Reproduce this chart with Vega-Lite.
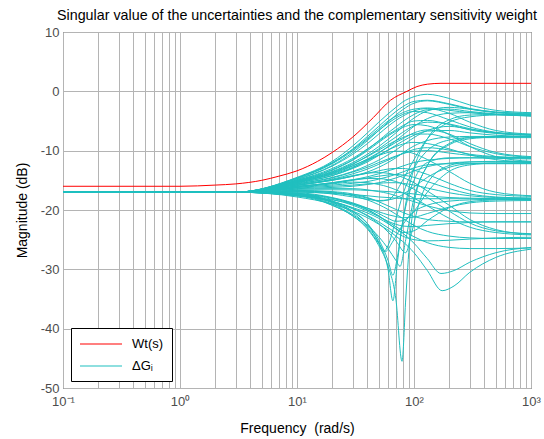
{
  "$schema": "https://vega.github.io/schema/vega-lite/v6.json",
  "width": 468,
  "height": 356,
  "autosize": {"type": "none"},
  "padding": {"left": 63, "top": 32, "right": 13, "bottom": 51},
  "background": "white",
  "title": {"text": "Singular value of the uncertainties and the complementary sensitivity weight", "fontSize": 14.3, "fontWeight": "normal", "font": "Liberation Sans", "color": "#000", "offset": 3},
  "config": {
    "font": "Liberation Sans",
    "view": {"stroke": "#333", "strokeWidth": 1},
    "axis": {"gridColor": "#b4b4b4", "gridOpacity": 1, "gridWidth": 1, "domain": false, "tickSize": 0, "labelFontSize": 13, "labelColor": "#4d4d4d", "titleFontSize": 14, "titleFontWeight": "normal", "titleColor": "#000", "labelFont": "Liberation Sans", "titleFont": "Liberation Sans"},
    "legend": {"orient": "none", "legendX": 8, "legendY": 296, "strokeColor": "#000", "fillColor": "white", "padding": 8, "symbolType": "M-1,0H5", "symbolSize": 196, "symbolStrokeWidth": 1, "labelFontSize": 13, "labelColor": "#000", "labelOffset": 37, "rowPadding": 7, "title": null}
  },
  "datasets": {
    "wt": [
      {"f":0.1,"m":-16},{"f":1,"m":-16},{"f":2,"m":-15.8},{"f":3,"m":-15.6},{"f":5,"m":-15},{"f":7,"m":-14.3},{"f":10,"m":-13.4},{"f":15,"m":-11.8},{"f":20,"m":-10.3},{"f":30,"m":-7.7},{"f":45,"m":-4.4},{"f":63,"m":-1.5},{"f":87,"m":0},{"f":106,"m":0.8},{"f":130,"m":1.2},{"f":170,"m":1.35},{"f":300,"m":1.35},{"f":1000,"m":1.35}
    ],
    "dg": [
      {"s":"A1","f":0.1,"m":-17},{"s":"A1","f":3,"m":-17},{"s":"A1","f":10,"m":-14.5},{"s":"A1","f":20,"m":-11.8},{"s":"A1","f":30,"m":-9.2},{"s":"A1","f":40,"m":-7},{"s":"A1","f":50,"m":-5.2},{"s":"A1","f":60,"m":-3.8},{"s":"A1","f":70,"m":-2.7},{"s":"A1","f":80,"m":-1.8},{"s":"A1","f":100,"m":-0.9},{"s":"A1","f":130,"m":-0.5},{"s":"A1","f":200,"m":-1.2},{"s":"A1","f":300,"m":-2.3},{"s":"A1","f":500,"m":-3.2},{"s":"A1","f":1000,"m":-3.6},
      {"s":"A2","f":0.1,"m":-17},{"s":"A2","f":3,"m":-17},{"s":"A2","f":10,"m":-14.8},{"s":"A2","f":20,"m":-12.5},{"s":"A2","f":30,"m":-10.3},{"s":"A2","f":40,"m":-8.3},{"s":"A2","f":50,"m":-6.6},{"s":"A2","f":60,"m":-5.2},{"s":"A2","f":70,"m":-4},{"s":"A2","f":80,"m":-3.1},{"s":"A2","f":100,"m":-2},{"s":"A2","f":130,"m":-1.6},{"s":"A2","f":200,"m":-2.2},{"s":"A2","f":300,"m":-3},{"s":"A2","f":500,"m":-3.6},{"s":"A2","f":1000,"m":-3.9},
      {"s":"A3","f":0.1,"m":-17},{"s":"A3","f":3,"m":-17},{"s":"A3","f":10,"m":-15},{"s":"A3","f":20,"m":-13.2},{"s":"A3","f":30,"m":-11.5},{"s":"A3","f":40,"m":-9.8},{"s":"A3","f":50,"m":-8.3},{"s":"A3","f":60,"m":-7},{"s":"A3","f":70,"m":-6},{"s":"A3","f":80,"m":-5.1},{"s":"A3","f":100,"m":-3.9},{"s":"A3","f":130,"m":-3.1},{"s":"A3","f":200,"m":-3},{"s":"A3","f":300,"m":-3.4},{"s":"A3","f":500,"m":-3.8},{"s":"A3","f":1000,"m":-4.1},
      {"s":"A4","f":0.1,"m":-17},{"s":"A4","f":3,"m":-17},{"s":"A4","f":10,"m":-15.3},{"s":"A4","f":20,"m":-14},{"s":"A4","f":30,"m":-12.8},{"s":"A4","f":40,"m":-11.6},{"s":"A4","f":50,"m":-10.4},{"s":"A4","f":60,"m":-9.3},{"s":"A4","f":70,"m":-8.3},{"s":"A4","f":80,"m":-7.4},{"s":"A4","f":100,"m":-5.9},{"s":"A4","f":130,"m":-4.6},{"s":"A4","f":200,"m":-3.7},{"s":"A4","f":300,"m":-3.6},{"s":"A4","f":500,"m":-3.9},{"s":"A4","f":1000,"m":-4.2},
      {"s":"A5","f":0.1,"m":-17},{"s":"A5","f":3,"m":-17},{"s":"A5","f":10,"m":-17.3},{"s":"A5","f":20,"m":-18.8},{"s":"A5","f":30,"m":-20.5},{"s":"A5","f":40,"m":-22.8},{"s":"A5","f":50,"m":-25.5},{"s":"A5","f":60,"m":-30},{"s":"A5","f":66,"m":-35.3},{"s":"A5","f":72,"m":-29},{"s":"A5","f":80,"m":-22},{"s":"A5","f":90,"m":-16.5},{"s":"A5","f":100,"m":-13},{"s":"A5","f":130,"m":-8},{"s":"A5","f":200,"m":-4.8},{"s":"A5","f":300,"m":-4},{"s":"A5","f":500,"m":-3.9},{"s":"A5","f":1000,"m":-4},
      {"s":"A6","f":0.1,"m":-17},{"s":"A6","f":3,"m":-17},{"s":"A6","f":10,"m":-14.6},{"s":"A6","f":20,"m":-12},{"s":"A6","f":30,"m":-9.8},{"s":"A6","f":40,"m":-7.9},{"s":"A6","f":50,"m":-6.3},{"s":"A6","f":60,"m":-5},{"s":"A6","f":70,"m":-4.2},{"s":"A6","f":80,"m":-3.6},{"s":"A6","f":100,"m":-3},{"s":"A6","f":130,"m":-2.8},{"s":"A6","f":200,"m":-3.2},{"s":"A6","f":300,"m":-3.6},{"s":"A6","f":500,"m":-3.9},{"s":"A6","f":1000,"m":-4},
      {"s":"A7","f":0.1,"m":-17},{"s":"A7","f":3,"m":-17},{"s":"A7","f":10,"m":-15.1},{"s":"A7","f":20,"m":-13.5},{"s":"A7","f":30,"m":-12},{"s":"A7","f":40,"m":-10.6},{"s":"A7","f":50,"m":-9.3},{"s":"A7","f":60,"m":-8.1},{"s":"A7","f":70,"m":-7},{"s":"A7","f":80,"m":-6},{"s":"A7","f":100,"m":-4.5},{"s":"A7","f":130,"m":-3.3},{"s":"A7","f":200,"m":-2.7},{"s":"A7","f":300,"m":-3},{"s":"A7","f":500,"m":-3.5},{"s":"A7","f":1000,"m":-3.7},
      {"s":"A8","f":0.1,"m":-17},{"s":"A8","f":3,"m":-17},{"s":"A8","f":10,"m":-14.6},{"s":"A8","f":20,"m":-12.1},{"s":"A8","f":30,"m":-9.7},{"s":"A8","f":40,"m":-7.6},{"s":"A8","f":50,"m":-5.9},{"s":"A8","f":60,"m":-4.5},{"s":"A8","f":70,"m":-3.4},{"s":"A8","f":80,"m":-2.6},{"s":"A8","f":100,"m":-1.7},{"s":"A8","f":130,"m":-1.5},{"s":"A8","f":200,"m":-2.1},{"s":"A8","f":300,"m":-2.9},{"s":"A8","f":500,"m":-3.5},{"s":"A8","f":1000,"m":-3.8},
      {"s":"A9","f":0.1,"m":-17},{"s":"A9","f":3,"m":-17},{"s":"A9","f":10,"m":-16.8},{"s":"A9","f":20,"m":-17},{"s":"A9","f":30,"m":-17.5},{"s":"A9","f":40,"m":-18},{"s":"A9","f":50,"m":-18.5},{"s":"A9","f":60,"m":-18.3},{"s":"A9","f":70,"m":-17},{"s":"A9","f":80,"m":-15},{"s":"A9","f":100,"m":-11.5},{"s":"A9","f":130,"m":-8},{"s":"A9","f":200,"m":-5.2},{"s":"A9","f":300,"m":-4.3},{"s":"A9","f":500,"m":-4},{"s":"A9","f":1000,"m":-4.1},
      {"s":"B1","f":0.1,"m":-17},{"s":"B1","f":3,"m":-17},{"s":"B1","f":10,"m":-14.7},{"s":"B1","f":20,"m":-12.2},{"s":"B1","f":30,"m":-10},{"s":"B1","f":40,"m":-8.1},{"s":"B1","f":50,"m":-6.6},{"s":"B1","f":60,"m":-5.4},{"s":"B1","f":70,"m":-4.5},{"s":"B1","f":80,"m":-3.9},{"s":"B1","f":100,"m":-3.4},{"s":"B1","f":130,"m":-3.6},{"s":"B1","f":200,"m":-4.8},{"s":"B1","f":300,"m":-6},{"s":"B1","f":500,"m":-6.9},{"s":"B1","f":1000,"m":-7.3},
      {"s":"B2","f":0.1,"m":-17},{"s":"B2","f":3,"m":-17},{"s":"B2","f":10,"m":-15},{"s":"B2","f":20,"m":-13},{"s":"B2","f":30,"m":-11.3},{"s":"B2","f":40,"m":-9.7},{"s":"B2","f":50,"m":-8.4},{"s":"B2","f":60,"m":-7.3},{"s":"B2","f":70,"m":-6.5},{"s":"B2","f":80,"m":-5.8},{"s":"B2","f":100,"m":-5},{"s":"B2","f":130,"m":-4.9},{"s":"B2","f":200,"m":-5.6},{"s":"B2","f":300,"m":-6.5},{"s":"B2","f":500,"m":-7.1},{"s":"B2","f":1000,"m":-7.4},
      {"s":"B3","f":0.1,"m":-17},{"s":"B3","f":3,"m":-17},{"s":"B3","f":10,"m":-15.4},{"s":"B3","f":20,"m":-14.2},{"s":"B3","f":30,"m":-13},{"s":"B3","f":40,"m":-11.9},{"s":"B3","f":50,"m":-10.8},{"s":"B3","f":60,"m":-9.9},{"s":"B3","f":70,"m":-9.1},{"s":"B3","f":80,"m":-8.4},{"s":"B3","f":100,"m":-7.4},{"s":"B3","f":130,"m":-6.7},{"s":"B3","f":200,"m":-6.6},{"s":"B3","f":300,"m":-7},{"s":"B3","f":500,"m":-7.4},{"s":"B3","f":1000,"m":-7.6},
      {"s":"B4","f":0.1,"m":-17},{"s":"B4","f":3,"m":-17},{"s":"B4","f":10,"m":-15.8},{"s":"B4","f":20,"m":-15},{"s":"B4","f":30,"m":-14.3},{"s":"B4","f":40,"m":-13.6},{"s":"B4","f":50,"m":-12.8},{"s":"B4","f":60,"m":-12},{"s":"B4","f":70,"m":-11.2},{"s":"B4","f":80,"m":-10.4},{"s":"B4","f":100,"m":-9.2},{"s":"B4","f":130,"m":-8.3},{"s":"B4","f":200,"m":-7.7},{"s":"B4","f":300,"m":-7.6},{"s":"B4","f":500,"m":-7.6},{"s":"B4","f":1000,"m":-7.7},
      {"s":"B5","f":0.1,"m":-17},{"s":"B5","f":3,"m":-17},{"s":"B5","f":10,"m":-17.4},{"s":"B5","f":20,"m":-19.2},{"s":"B5","f":30,"m":-21},{"s":"B5","f":40,"m":-23.2},{"s":"B5","f":50,"m":-26},{"s":"B5","f":60,"m":-29.5},{"s":"B5","f":70,"m":-35},{"s":"B5","f":79,"m":-45.5},{"s":"B5","f":85,"m":-35},{"s":"B5","f":92,"m":-25},{"s":"B5","f":100,"m":-19},{"s":"B5","f":130,"m":-12.5},{"s":"B5","f":200,"m":-8.8},{"s":"B5","f":300,"m":-7.8},{"s":"B5","f":500,"m":-7.6},{"s":"B5","f":1000,"m":-7.6},
      {"s":"B6","f":0.1,"m":-17},{"s":"B6","f":3,"m":-17},{"s":"B6","f":10,"m":-14.9},{"s":"B6","f":20,"m":-12.6},{"s":"B6","f":30,"m":-10.6},{"s":"B6","f":40,"m":-8.8},{"s":"B6","f":50,"m":-7.2},{"s":"B6","f":60,"m":-5.9},{"s":"B6","f":70,"m":-4.9},{"s":"B6","f":80,"m":-4.2},{"s":"B6","f":100,"m":-3.3},{"s":"B6","f":130,"m":-2.9},{"s":"B6","f":200,"m":-3.7},{"s":"B6","f":300,"m":-5.2},{"s":"B6","f":500,"m":-6.6},{"s":"B6","f":1000,"m":-7.2},
      {"s":"B7","f":0.1,"m":-17},{"s":"B7","f":3,"m":-17},{"s":"B7","f":10,"m":-17.2},{"s":"B7","f":20,"m":-18.6},{"s":"B7","f":30,"m":-20.2},{"s":"B7","f":40,"m":-22.3},{"s":"B7","f":50,"m":-25.5},{"s":"B7","f":55,"m":-27},{"s":"B7","f":60,"m":-26},{"s":"B7","f":70,"m":-21.5},{"s":"B7","f":80,"m":-17.5},{"s":"B7","f":100,"m":-13},{"s":"B7","f":130,"m":-10},{"s":"B7","f":200,"m":-8.2},{"s":"B7","f":300,"m":-7.8},{"s":"B7","f":500,"m":-7.8},{"s":"B7","f":1000,"m":-7.8},
      {"s":"B8","f":0.1,"m":-17},{"s":"B8","f":3,"m":-17},{"s":"B8","f":10,"m":-15.6},{"s":"B8","f":20,"m":-14.5},{"s":"B8","f":30,"m":-13.5},{"s":"B8","f":40,"m":-12.5},{"s":"B8","f":50,"m":-11.6},{"s":"B8","f":60,"m":-10.7},{"s":"B8","f":70,"m":-9.9},{"s":"B8","f":80,"m":-9.1},{"s":"B8","f":100,"m":-7.8},{"s":"B8","f":130,"m":-6.6},{"s":"B8","f":200,"m":-5.9},{"s":"B8","f":300,"m":-6.4},{"s":"B8","f":500,"m":-7},{"s":"B8","f":1000,"m":-7.3},
      {"s":"B9","f":0.1,"m":-17},{"s":"B9","f":3,"m":-17},{"s":"B9","f":10,"m":-15.2},{"s":"B9","f":20,"m":-13.7},{"s":"B9","f":30,"m":-12.3},{"s":"B9","f":40,"m":-10.9},{"s":"B9","f":50,"m":-9.7},{"s":"B9","f":60,"m":-8.6},{"s":"B9","f":70,"m":-7.7},{"s":"B9","f":80,"m":-6.9},{"s":"B9","f":100,"m":-5.8},{"s":"B9","f":130,"m":-5.2},{"s":"B9","f":200,"m":-5.5},{"s":"B9","f":300,"m":-6.3},{"s":"B9","f":500,"m":-7},{"s":"B9","f":1000,"m":-7.4},
      {"s":"B10","f":0.1,"m":-17},{"s":"B10","f":3,"m":-17},{"s":"B10","f":10,"m":-17.4},{"s":"B10","f":20,"m":-19},{"s":"B10","f":30,"m":-20.8},{"s":"B10","f":40,"m":-22.6},{"s":"B10","f":50,"m":-24.5},{"s":"B10","f":60,"m":-26.5},{"s":"B10","f":70,"m":-28.5},{"s":"B10","f":76,"m":-29.5},{"s":"B10","f":85,"m":-25},{"s":"B10","f":100,"m":-18},{"s":"B10","f":130,"m":-12.5},{"s":"B10","f":200,"m":-9},{"s":"B10","f":300,"m":-8},{"s":"B10","f":500,"m":-7.7},{"s":"B10","f":1000,"m":-7.6},
      {"s":"C1","f":0.1,"m":-17},{"s":"C1","f":3,"m":-17},{"s":"C1","f":10,"m":-15.2},{"s":"C1","f":20,"m":-13.6},{"s":"C1","f":30,"m":-12.2},{"s":"C1","f":40,"m":-11},{"s":"C1","f":50,"m":-9.9},{"s":"C1","f":60,"m":-9},{"s":"C1","f":70,"m":-8.3},{"s":"C1","f":80,"m":-7.8},{"s":"C1","f":100,"m":-7.2},{"s":"C1","f":130,"m":-7.2},{"s":"C1","f":200,"m":-8},{"s":"C1","f":300,"m":-9.3},{"s":"C1","f":500,"m":-10.5},{"s":"C1","f":1000,"m":-11.1},
      {"s":"C2","f":0.1,"m":-17},{"s":"C2","f":3,"m":-17},{"s":"C2","f":10,"m":-15.6},{"s":"C2","f":20,"m":-14.6},{"s":"C2","f":30,"m":-13.6},{"s":"C2","f":40,"m":-12.8},{"s":"C2","f":50,"m":-12},{"s":"C2","f":60,"m":-11.4},{"s":"C2","f":70,"m":-10.9},{"s":"C2","f":80,"m":-10.5},{"s":"C2","f":100,"m":-10.1},{"s":"C2","f":130,"m":-10},{"s":"C2","f":200,"m":-10.4},{"s":"C2","f":300,"m":-10.8},{"s":"C2","f":500,"m":-11.1},{"s":"C2","f":1000,"m":-11.2},
      {"s":"C3","f":0.1,"m":-17},{"s":"C3","f":3,"m":-17},{"s":"C3","f":10,"m":-16},{"s":"C3","f":20,"m":-15.4},{"s":"C3","f":30,"m":-14.9},{"s":"C3","f":40,"m":-14.4},{"s":"C3","f":50,"m":-13.9},{"s":"C3","f":60,"m":-13.4},{"s":"C3","f":70,"m":-13},{"s":"C3","f":80,"m":-12.6},{"s":"C3","f":100,"m":-12},{"s":"C3","f":130,"m":-11.6},{"s":"C3","f":200,"m":-11.3},{"s":"C3","f":300,"m":-11.2},{"s":"C3","f":500,"m":-11.2},{"s":"C3","f":1000,"m":-11.3},
      {"s":"C4","f":0.1,"m":-17},{"s":"C4","f":3,"m":-17},{"s":"C4","f":10,"m":-16.9},{"s":"C4","f":20,"m":-17.3},{"s":"C4","f":30,"m":-17.8},{"s":"C4","f":40,"m":-18.2},{"s":"C4","f":50,"m":-18.4},{"s":"C4","f":60,"m":-18.3},{"s":"C4","f":70,"m":-18},{"s":"C4","f":80,"m":-17.4},{"s":"C4","f":100,"m":-16.1},{"s":"C4","f":130,"m":-14.5},{"s":"C4","f":200,"m":-12.8},{"s":"C4","f":300,"m":-12.2},{"s":"C4","f":500,"m":-12.1},{"s":"C4","f":1000,"m":-12.1},
      {"s":"C5","f":0.1,"m":-17},{"s":"C5","f":3,"m":-17},{"s":"C5","f":10,"m":-15.1},{"s":"C5","f":20,"m":-13.3},{"s":"C5","f":30,"m":-11.6},{"s":"C5","f":40,"m":-10},{"s":"C5","f":50,"m":-8.6},{"s":"C5","f":60,"m":-7.5},{"s":"C5","f":70,"m":-6.7},{"s":"C5","f":80,"m":-6.1},{"s":"C5","f":100,"m":-5.6},{"s":"C5","f":130,"m":-5.8},{"s":"C5","f":200,"m":-7.3},{"s":"C5","f":300,"m":-9.3},{"s":"C5","f":500,"m":-11},{"s":"C5","f":1000,"m":-11.8},
      {"s":"C6","f":0.1,"m":-17},{"s":"C6","f":3,"m":-17},{"s":"C6","f":10,"m":-17.3},{"s":"C6","f":20,"m":-18.5},{"s":"C6","f":30,"m":-19.8},{"s":"C6","f":40,"m":-21},{"s":"C6","f":50,"m":-22.3},{"s":"C6","f":60,"m":-23.7},{"s":"C6","f":70,"m":-25.2},{"s":"C6","f":85,"m":-27.2},{"s":"C6","f":95,"m":-24},{"s":"C6","f":110,"m":-19},{"s":"C6","f":130,"m":-15.5},{"s":"C6","f":200,"m":-12.5},{"s":"C6","f":300,"m":-11.9},{"s":"C6","f":500,"m":-11.8},{"s":"C6","f":1000,"m":-11.9},
      {"s":"C7","f":0.1,"m":-17},{"s":"C7","f":3,"m":-17},{"s":"C7","f":10,"m":-16.4},{"s":"C7","f":20,"m":-16.2},{"s":"C7","f":30,"m":-16},{"s":"C7","f":40,"m":-15.7},{"s":"C7","f":50,"m":-15.4},{"s":"C7","f":60,"m":-15},{"s":"C7","f":70,"m":-14.6},{"s":"C7","f":80,"m":-14.2},{"s":"C7","f":100,"m":-13.4},{"s":"C7","f":130,"m":-12.7},{"s":"C7","f":200,"m":-12.1},{"s":"C7","f":300,"m":-11.9},{"s":"C7","f":500,"m":-11.9},{"s":"C7","f":1000,"m":-12},
      {"s":"C8","f":0.1,"m":-17},{"s":"C8","f":3,"m":-17},{"s":"C8","f":10,"m":-17.3},{"s":"C8","f":20,"m":-18.7},{"s":"C8","f":30,"m":-20.3},{"s":"C8","f":40,"m":-22.3},{"s":"C8","f":50,"m":-25},{"s":"C8","f":60,"m":-28.5},{"s":"C8","f":66,"m":-31},{"s":"C8","f":72,"m":-28},{"s":"C8","f":80,"m":-22},{"s":"C8","f":90,"m":-17.5},{"s":"C8","f":100,"m":-15},{"s":"C8","f":130,"m":-12},{"s":"C8","f":200,"m":-11.2},{"s":"C8","f":300,"m":-11.2},{"s":"C8","f":500,"m":-11.3},{"s":"C8","f":1000,"m":-11.4},
      {"s":"C9","f":0.1,"m":-17},{"s":"C9","f":3,"m":-17},{"s":"C9","f":10,"m":-15.5},{"s":"C9","f":20,"m":-14.2},{"s":"C9","f":30,"m":-12.9},{"s":"C9","f":40,"m":-11.7},{"s":"C9","f":50,"m":-10.7},{"s":"C9","f":60,"m":-9.9},{"s":"C9","f":70,"m":-9.3},{"s":"C9","f":80,"m":-8.9},{"s":"C9","f":100,"m":-8.6},{"s":"C9","f":130,"m":-8.8},{"s":"C9","f":200,"m":-9.7},{"s":"C9","f":300,"m":-10.7},{"s":"C9","f":500,"m":-11.5},{"s":"C9","f":1000,"m":-11.9},
      {"s":"C10","f":0.1,"m":-17},{"s":"C10","f":3,"m":-17},{"s":"C10","f":10,"m":-15.3},{"s":"C10","f":20,"m":-13.9},{"s":"C10","f":30,"m":-12.6},{"s":"C10","f":40,"m":-11.4},{"s":"C10","f":50,"m":-10.3},{"s":"C10","f":60,"m":-9.4},{"s":"C10","f":70,"m":-8.6},{"s":"C10","f":80,"m":-8},{"s":"C10","f":100,"m":-7},{"s":"C10","f":130,"m":-6.5},{"s":"C10","f":200,"m":-7.2},{"s":"C10","f":300,"m":-8.8},{"s":"C10","f":500,"m":-10.3},{"s":"C10","f":1000,"m":-11},
      {"s":"C11","f":0.1,"m":-17},{"s":"C11","f":3,"m":-17},{"s":"C11","f":10,"m":-16.2},{"s":"C11","f":20,"m":-15.8},{"s":"C11","f":30,"m":-15.5},{"s":"C11","f":40,"m":-15.2},{"s":"C11","f":50,"m":-14.8},{"s":"C11","f":60,"m":-14.4},{"s":"C11","f":70,"m":-14},{"s":"C11","f":80,"m":-13.6},{"s":"C11","f":100,"m":-12.9},{"s":"C11","f":130,"m":-12.4},{"s":"C11","f":200,"m":-12.2},{"s":"C11","f":300,"m":-12.2},{"s":"C11","f":500,"m":-12.2},{"s":"C11","f":1000,"m":-12.2},
      {"s":"C12","f":0.1,"m":-17},{"s":"C12","f":3,"m":-17},{"s":"C12","f":10,"m":-15.7},{"s":"C12","f":20,"m":-14.8},{"s":"C12","f":30,"m":-13.9},{"s":"C12","f":40,"m":-13.1},{"s":"C12","f":50,"m":-12.3},{"s":"C12","f":60,"m":-11.6},{"s":"C12","f":70,"m":-11},{"s":"C12","f":80,"m":-10.5},{"s":"C12","f":100,"m":-9.8},{"s":"C12","f":130,"m":-9.5},{"s":"C12","f":200,"m":-9.9},{"s":"C12","f":300,"m":-10.6},{"s":"C12","f":500,"m":-11},{"s":"C12","f":1000,"m":-11.2},
      {"s":"C13","f":0.1,"m":-17},{"s":"C13","f":3,"m":-17},{"s":"C13","f":10,"m":-17.1},{"s":"C13","f":20,"m":-17.9},{"s":"C13","f":30,"m":-18.8},{"s":"C13","f":40,"m":-19.7},{"s":"C13","f":50,"m":-20.6},{"s":"C13","f":60,"m":-21.4},{"s":"C13","f":70,"m":-21.9},{"s":"C13","f":80,"m":-21.8},{"s":"C13","f":100,"m":-20.2},{"s":"C13","f":130,"m":-17},{"s":"C13","f":200,"m":-13.5},{"s":"C13","f":300,"m":-12.4},{"s":"C13","f":500,"m":-12.1},{"s":"C13","f":1000,"m":-12.1},
      {"s":"D1","f":0.1,"m":-17},{"s":"D1","f":3,"m":-17},{"s":"D1","f":10,"m":-15.8},{"s":"D1","f":20,"m":-15},{"s":"D1","f":30,"m":-14.3},{"s":"D1","f":40,"m":-13.8},{"s":"D1","f":50,"m":-13.4},{"s":"D1","f":60,"m":-13.1},{"s":"D1","f":70,"m":-13},{"s":"D1","f":80,"m":-13},{"s":"D1","f":100,"m":-13.3},{"s":"D1","f":130,"m":-14},{"s":"D1","f":200,"m":-15.5},{"s":"D1","f":300,"m":-16.7},{"s":"D1","f":500,"m":-17.4},{"s":"D1","f":1000,"m":-17.7},
      {"s":"D2","f":0.1,"m":-17},{"s":"D2","f":3,"m":-17},{"s":"D2","f":10,"m":-16.3},{"s":"D2","f":20,"m":-16},{"s":"D2","f":30,"m":-15.8},{"s":"D2","f":40,"m":-15.6},{"s":"D2","f":50,"m":-15.5},{"s":"D2","f":60,"m":-15.4},{"s":"D2","f":70,"m":-15.4},{"s":"D2","f":80,"m":-15.5},{"s":"D2","f":100,"m":-15.8},{"s":"D2","f":130,"m":-16.3},{"s":"D2","f":200,"m":-17.1},{"s":"D2","f":300,"m":-17.6},{"s":"D2","f":500,"m":-17.9},{"s":"D2","f":1000,"m":-18},
      {"s":"D3","f":0.1,"m":-17},{"s":"D3","f":3,"m":-17},{"s":"D3","f":10,"m":-17},{"s":"D3","f":20,"m":-17.2},{"s":"D3","f":30,"m":-17.4},{"s":"D3","f":40,"m":-17.6},{"s":"D3","f":50,"m":-17.8},{"s":"D3","f":60,"m":-17.9},{"s":"D3","f":70,"m":-18},{"s":"D3","f":80,"m":-18.1},{"s":"D3","f":100,"m":-18.1},{"s":"D3","f":130,"m":-18.1},{"s":"D3","f":200,"m":-18.1},{"s":"D3","f":300,"m":-18.1},{"s":"D3","f":500,"m":-18.1},{"s":"D3","f":1000,"m":-18.1},
      {"s":"D4","f":0.1,"m":-17},{"s":"D4","f":3,"m":-17},{"s":"D4","f":10,"m":-17.6},{"s":"D4","f":20,"m":-18.3},{"s":"D4","f":30,"m":-19},{"s":"D4","f":40,"m":-19.7},{"s":"D4","f":50,"m":-20.3},{"s":"D4","f":60,"m":-20.8},{"s":"D4","f":70,"m":-21.1},{"s":"D4","f":80,"m":-21.3},{"s":"D4","f":100,"m":-21.2},{"s":"D4","f":130,"m":-20.6},{"s":"D4","f":200,"m":-19.5},{"s":"D4","f":300,"m":-18.8},{"s":"D4","f":500,"m":-18.5},{"s":"D4","f":1000,"m":-18.4},
      {"s":"D5","f":0.1,"m":-17},{"s":"D5","f":3,"m":-17},{"s":"D5","f":10,"m":-15.4},{"s":"D5","f":20,"m":-13.8},{"s":"D5","f":30,"m":-12.5},{"s":"D5","f":40,"m":-11.5},{"s":"D5","f":50,"m":-10.8},{"s":"D5","f":60,"m":-10.3},{"s":"D5","f":70,"m":-10.1},{"s":"D5","f":80,"m":-10.1},{"s":"D5","f":100,"m":-10.5},{"s":"D5","f":130,"m":-11.5},{"s":"D5","f":200,"m":-13.5},{"s":"D5","f":300,"m":-15.5},{"s":"D5","f":500,"m":-17},{"s":"D5","f":1000,"m":-17.6},
      {"s":"D6","f":0.1,"m":-17},{"s":"D6","f":3,"m":-17},{"s":"D6","f":10,"m":-17.6},{"s":"D6","f":20,"m":-19.2},{"s":"D6","f":30,"m":-21},{"s":"D6","f":40,"m":-23},{"s":"D6","f":50,"m":-25.6},{"s":"D6","f":57,"m":-27},{"s":"D6","f":65,"m":-25.5},{"s":"D6","f":80,"m":-22.5},{"s":"D6","f":100,"m":-20.3},{"s":"D6","f":130,"m":-19.2},{"s":"D6","f":200,"m":-18.5},{"s":"D6","f":300,"m":-18.3},{"s":"D6","f":500,"m":-18.2},{"s":"D6","f":1000,"m":-18.2},
      {"s":"D7","f":0.1,"m":-17},{"s":"D7","f":3,"m":-17},{"s":"D7","f":10,"m":-16.6},{"s":"D7","f":20,"m":-16.6},{"s":"D7","f":30,"m":-16.6},{"s":"D7","f":40,"m":-16.7},{"s":"D7","f":50,"m":-16.8},{"s":"D7","f":60,"m":-16.9},{"s":"D7","f":70,"m":-17},{"s":"D7","f":80,"m":-17.1},{"s":"D7","f":100,"m":-17.3},{"s":"D7","f":130,"m":-17.6},{"s":"D7","f":200,"m":-17.9},{"s":"D7","f":300,"m":-18},{"s":"D7","f":500,"m":-18.1},{"s":"D7","f":1000,"m":-18.2},
      {"s":"D8","f":0.1,"m":-17},{"s":"D8","f":3,"m":-17},{"s":"D8","f":10,"m":-16},{"s":"D8","f":20,"m":-15.5},{"s":"D8","f":30,"m":-15},{"s":"D8","f":40,"m":-14.6},{"s":"D8","f":50,"m":-14.3},{"s":"D8","f":60,"m":-14.1},{"s":"D8","f":70,"m":-14},{"s":"D8","f":80,"m":-14.1},{"s":"D8","f":100,"m":-14.5},{"s":"D8","f":130,"m":-15.2},{"s":"D8","f":200,"m":-16.4},{"s":"D8","f":300,"m":-17.3},{"s":"D8","f":500,"m":-17.8},{"s":"D8","f":1000,"m":-18},
      {"s":"D9","f":0.1,"m":-17},{"s":"D9","f":3,"m":-17},{"s":"D9","f":10,"m":-17.3},{"s":"D9","f":20,"m":-18},{"s":"D9","f":30,"m":-18.9},{"s":"D9","f":40,"m":-19.9},{"s":"D9","f":50,"m":-21},{"s":"D9","f":60,"m":-22.2},{"s":"D9","f":70,"m":-23.2},{"s":"D9","f":80,"m":-23.8},{"s":"D9","f":100,"m":-23.5},{"s":"D9","f":130,"m":-21.8},{"s":"D9","f":200,"m":-19.6},{"s":"D9","f":300,"m":-18.6},{"s":"D9","f":500,"m":-18.3},{"s":"D9","f":1000,"m":-18.2},
      {"s":"E1","f":0.1,"m":-17},{"s":"E1","f":3,"m":-17},{"s":"E1","f":10,"m":-16.5},{"s":"E1","f":20,"m":-16.4},{"s":"E1","f":30,"m":-16.4},{"s":"E1","f":40,"m":-16.6},{"s":"E1","f":50,"m":-16.9},{"s":"E1","f":60,"m":-17.2},{"s":"E1","f":70,"m":-17.6},{"s":"E1","f":80,"m":-18},{"s":"E1","f":100,"m":-18.6},{"s":"E1","f":130,"m":-19.3},{"s":"E1","f":200,"m":-20.1},{"s":"E1","f":300,"m":-20.5},{"s":"E1","f":500,"m":-20.6},{"s":"E1","f":1000,"m":-20.6},
      {"s":"E2","f":0.1,"m":-17},{"s":"E2","f":3,"m":-17},{"s":"E2","f":10,"m":-17.3},{"s":"E2","f":20,"m":-18.2},{"s":"E2","f":30,"m":-19.2},{"s":"E2","f":40,"m":-20.2},{"s":"E2","f":50,"m":-21.1},{"s":"E2","f":60,"m":-21.9},{"s":"E2","f":70,"m":-22.4},{"s":"E2","f":80,"m":-22.7},{"s":"E2","f":100,"m":-22.8},{"s":"E2","f":130,"m":-22.6},{"s":"E2","f":200,"m":-22.3},{"s":"E2","f":300,"m":-22.1},{"s":"E2","f":500,"m":-22},{"s":"E2","f":1000,"m":-22},
      {"s":"E3","f":0.1,"m":-17},{"s":"E3","f":3,"m":-17},{"s":"E3","f":10,"m":-17.8},{"s":"E3","f":20,"m":-19},{"s":"E3","f":30,"m":-20.2},{"s":"E3","f":40,"m":-21.3},{"s":"E3","f":50,"m":-22.4},{"s":"E3","f":60,"m":-23.4},{"s":"E3","f":70,"m":-24.4},{"s":"E3","f":80,"m":-25.3},{"s":"E3","f":100,"m":-27.2},{"s":"E3","f":130,"m":-30.2},{"s":"E3","f":174,"m":-33.6},{"s":"E3","f":220,"m":-32.8},{"s":"E3","f":300,"m":-30.5},{"s":"E3","f":500,"m":-28},{"s":"E3","f":1000,"m":-26.6},
      {"s":"E4","f":0.1,"m":-17},{"s":"E4","f":3,"m":-17},{"s":"E4","f":10,"m":-17.6},{"s":"E4","f":20,"m":-18.6},{"s":"E4","f":30,"m":-19.6},{"s":"E4","f":40,"m":-20.5},{"s":"E4","f":50,"m":-21.4},{"s":"E4","f":60,"m":-22.3},{"s":"E4","f":70,"m":-23.1},{"s":"E4","f":80,"m":-23.9},{"s":"E4","f":100,"m":-25.6},{"s":"E4","f":130,"m":-28.2},{"s":"E4","f":170,"m":-30.7},{"s":"E4","f":220,"m":-30.2},{"s":"E4","f":300,"m":-28.8},{"s":"E4","f":500,"m":-27.2},{"s":"E4","f":1000,"m":-26.3},
      {"s":"E5","f":0.1,"m":-17},{"s":"E5","f":3,"m":-17},{"s":"E5","f":10,"m":-16.2},{"s":"E5","f":20,"m":-15.6},{"s":"E5","f":30,"m":-15.3},{"s":"E5","f":40,"m":-15.4},{"s":"E5","f":50,"m":-15.7},{"s":"E5","f":60,"m":-16.1},{"s":"E5","f":70,"m":-16.6},{"s":"E5","f":80,"m":-17.1},{"s":"E5","f":100,"m":-18},{"s":"E5","f":130,"m":-19.3},{"s":"E5","f":200,"m":-21.4},{"s":"E5","f":300,"m":-22.9},{"s":"E5","f":500,"m":-23.8},{"s":"E5","f":1000,"m":-24.2},
      {"s":"E6","f":0.1,"m":-17},{"s":"E6","f":3,"m":-17},{"s":"E6","f":10,"m":-15.9},{"s":"E6","f":20,"m":-14.9},{"s":"E6","f":30,"m":-14.2},{"s":"E6","f":40,"m":-13.8},{"s":"E6","f":50,"m":-13.7},{"s":"E6","f":60,"m":-13.8},{"s":"E6","f":70,"m":-14.1},{"s":"E6","f":80,"m":-14.5},{"s":"E6","f":100,"m":-15.4},{"s":"E6","f":130,"m":-16.8},{"s":"E6","f":200,"m":-19.2},{"s":"E6","f":300,"m":-21.6},{"s":"E6","f":500,"m":-23.3},{"s":"E6","f":1000,"m":-24.1},
      {"s":"E7","f":0.1,"m":-17},{"s":"E7","f":3,"m":-17},{"s":"E7","f":10,"m":-16.8},{"s":"E7","f":20,"m":-17.1},{"s":"E7","f":30,"m":-17.6},{"s":"E7","f":40,"m":-18.3},{"s":"E7","f":50,"m":-19.1},{"s":"E7","f":60,"m":-19.9},{"s":"E7","f":70,"m":-20.7},{"s":"E7","f":80,"m":-21.4},{"s":"E7","f":100,"m":-22.6},{"s":"E7","f":130,"m":-23.6},{"s":"E7","f":200,"m":-24.4},{"s":"E7","f":300,"m":-24.7},{"s":"E7","f":500,"m":-24.8},{"s":"E7","f":1000,"m":-24.8},
      {"s":"E8","f":0.1,"m":-17},{"s":"E8","f":3,"m":-17},{"s":"E8","f":10,"m":-16.1},{"s":"E8","f":20,"m":-15.4},{"s":"E8","f":30,"m":-14.9},{"s":"E8","f":40,"m":-14.7},{"s":"E8","f":50,"m":-14.7},{"s":"E8","f":60,"m":-14.9},{"s":"E8","f":70,"m":-15.2},{"s":"E8","f":80,"m":-15.6},{"s":"E8","f":100,"m":-16.5},{"s":"E8","f":130,"m":-17.9},{"s":"E8","f":200,"m":-20.2},{"s":"E8","f":300,"m":-22.2},{"s":"E8","f":500,"m":-23.5},{"s":"E8","f":1000,"m":-24},
      {"s":"E9","f":0.1,"m":-17},{"s":"E9","f":3,"m":-17},{"s":"E9","f":10,"m":-17.5},{"s":"E9","f":20,"m":-18.5},{"s":"E9","f":30,"m":-19.7},{"s":"E9","f":40,"m":-20.9},{"s":"E9","f":50,"m":-22},{"s":"E9","f":60,"m":-23},{"s":"E9","f":70,"m":-23.8},{"s":"E9","f":80,"m":-24.4},{"s":"E9","f":100,"m":-25},{"s":"E9","f":130,"m":-25.2},{"s":"E9","f":200,"m":-25.1},{"s":"E9","f":300,"m":-24.9},{"s":"E9","f":500,"m":-24.7},{"s":"E9","f":1000,"m":-24.6},
      {"s":"E10","f":0.1,"m":-17},{"s":"E10","f":3,"m":-17},{"s":"E10","f":10,"m":-16.7},{"s":"E10","f":20,"m":-16.9},{"s":"E10","f":30,"m":-17.3},{"s":"E10","f":40,"m":-17.9},{"s":"E10","f":50,"m":-18.6},{"s":"E10","f":60,"m":-19.3},{"s":"E10","f":70,"m":-19.9},{"s":"E10","f":80,"m":-20.4},{"s":"E10","f":100,"m":-21.1},{"s":"E10","f":130,"m":-21.6},{"s":"E10","f":200,"m":-21.9},{"s":"E10","f":300,"m":-22},{"s":"E10","f":500,"m":-22},{"s":"E10","f":1000,"m":-22},
      {"s":"E11","f":0.1,"m":-17},{"s":"E11","f":3,"m":-17},{"s":"E11","f":10,"m":-17.2},{"s":"E11","f":20,"m":-18},{"s":"E11","f":30,"m":-19},{"s":"E11","f":40,"m":-20},{"s":"E11","f":50,"m":-21},{"s":"E11","f":60,"m":-22},{"s":"E11","f":70,"m":-22.8},{"s":"E11","f":80,"m":-23.5},{"s":"E11","f":100,"m":-24.5},{"s":"E11","f":130,"m":-25.5},{"s":"E11","f":200,"m":-26.3},{"s":"E11","f":300,"m":-26.5},{"s":"E11","f":500,"m":-26.5},{"s":"E11","f":1000,"m":-26.4}
    ]
  },
  "encoding": {
    "x": {"field": "f", "type": "quantitative", "scale": {"type": "log", "domain": [0.1, 1000]},
      "axis": {"title": "Frequency \u00a0(rad/s)", "values": [0.1,0.2,0.3,0.4,0.5,0.6,0.7,0.8,0.9,1,2,3,4,5,6,7,8,9,10,20,30,40,50,60,70,80,90,100,200,300,400,500,600,700,800,900,1000],
        "labelExpr": "datum.value == 0.1 ? '10⁻¹' : datum.value == 1 ? '10⁰' : datum.value == 10 ? '10¹' : datum.value == 100 ? '10²' : datum.value == 1000 ? '10³' : ''",
        "labelOverlap": false, "labelFlush": false, "labelPadding": 7, "titlePadding": 13}},
    "y": {"field": "m", "type": "quantitative", "scale": {"domain": [-50, 10], "nice": false},
      "axis": {"title": "Magnitude (dB)", "values": [-50,-40,-30,-20,-10,0,10], "labelExpr": "'' + datum.value", "labelPadding": 4, "titlePadding": 11}}
  },
  "layer": [
    {"data": {"name": "dg"}, "mark": {"type": "line", "strokeWidth": 1, "interpolate": "monotone", "clip": true},
      "encoding": {"detail": {"field": "s"}, "stroke": {"datum": "ΔGᵢ", "scale": {"domain": ["Wt(s)", "ΔGᵢ"], "range": ["#ff0000", "#1fbfbf"]},
        "legend": {"encode": {"symbols": {"update": {"stroke": {"scale": "stroke", "field": "value"}, "strokeWidth": {"value": 1.2}, "opacity": {"value": 1}}}}}}}},
    {"data": {"name": "wt"}, "mark": {"type": "line", "strokeWidth": 1, "interpolate": "monotone", "clip": true},
      "encoding": {"stroke": {"datum": "Wt(s)"}}}
  ]
}
